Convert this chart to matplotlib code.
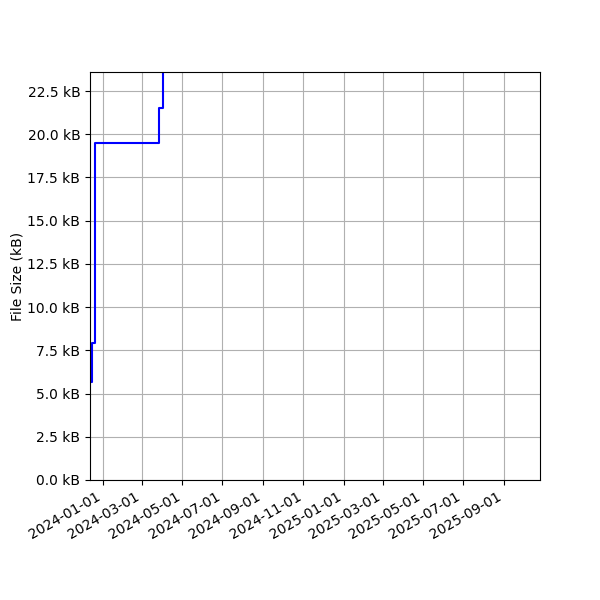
import numpy as np
import matplotlib
matplotlib.use('Agg')
import matplotlib.pyplot as plt
import matplotlib.dates as mdates
import matplotlib.ticker as ticker

# ===== Data ==================================================================
dates = np.array(['2023-12-15', '2023-12-16', '2023-12-20', '2024-03-27',
                  '2024-04-02', '2025-10-26'], dtype='datetime64[D]')
sizes_kb = [5.65, 7.95, 19.5, 21.5, 26.0, 26.0]

X_START = np.datetime64('2023-12-13')
Y_MAX = 23.6

# ===== Plotting ==============================================================
fig, ax = plt.subplots(figsize=(6, 6), dpi=100)
ax.plot(dates, sizes_kb, color='blue', drawstyle='steps-post')

ax.set_xlim(X_START, dates[-1])
ax.set_ylim(0, Y_MAX)
ax.xaxis.set_major_locator(mdates.MonthLocator(bymonth=[1, 3, 5, 7, 9, 11]))
ax.xaxis.set_major_formatter(mdates.DateFormatter('%Y-%m-%d'))
ax.yaxis.set_major_locator(ticker.MultipleLocator(2.5))
ax.yaxis.set_major_formatter(ticker.FuncFormatter(lambda v, p: f"{v:.1f} kB"))
ax.set_ylabel("File Size (kB)", labelpad=2)
ax.grid(True)

fig.autofmt_xdate()
fig.subplots_adjust(left=0.15, right=0.9, top=0.88, bottom=0.2)

fig.savefig('out.png')
